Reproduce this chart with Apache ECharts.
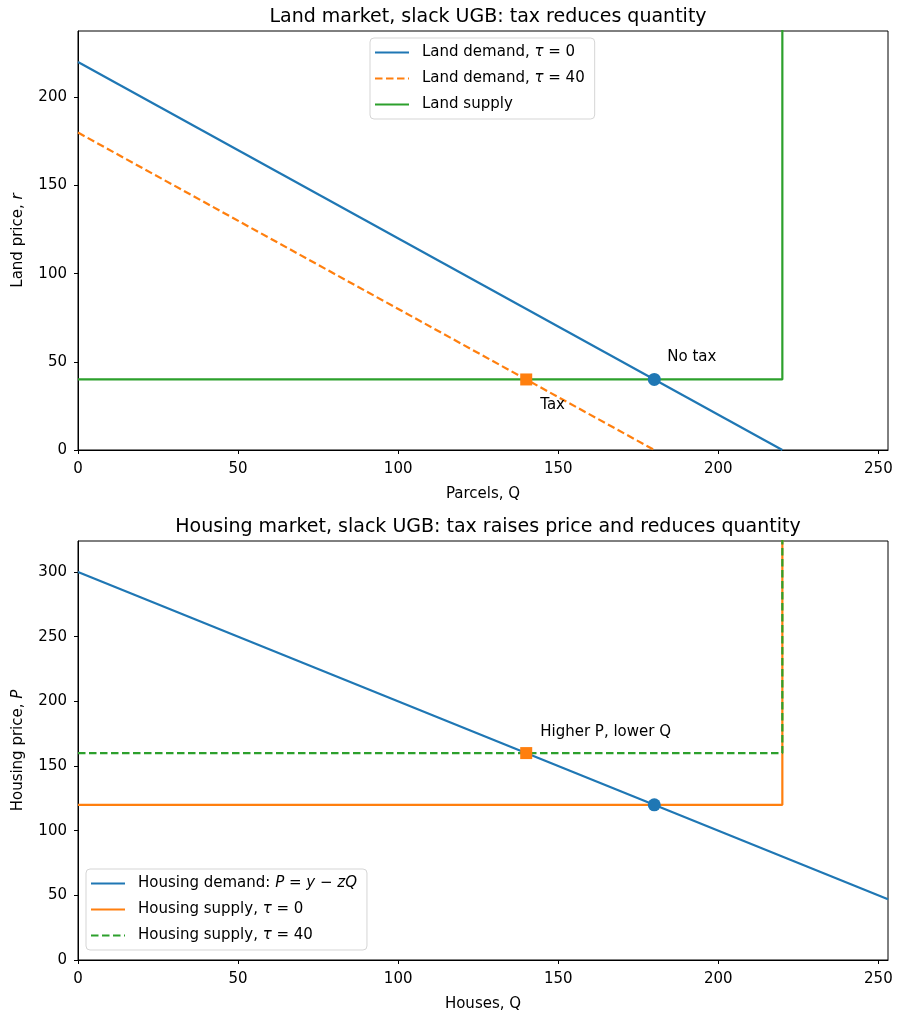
<!DOCTYPE html>
<html>
<head>
<meta charset="utf-8" />
<title>Land and housing market, slack UGB</title>
<script src="https://cdn.jsdelivr.net/npm/echarts@6/dist/echarts.min.js"></script>
<style>
  html, body { margin: 0; padding: 0; background: #fff; }
  #chart { width: 898px; height: 1016px; }
</style>
</head>
<body>
<div id="chart"></div>
<script>
// ---- data ----
const xMax = 253;
const landYMax = 237.6;
const houseYMax = 324;

// land market
const landDemand0 = [[0, 220], [220, 0]];
const landDemand40 = [[0, 180], [180, 0]];
const landSupply = [[0, 40], [220, 40], [220, 400]];
const landNoTax = [[180, 40]];
const landTax = [[140, 40]];

// housing market
const houseDemand = [[0, 300], [253, 47]];
const houseSupply0 = [[0, 120], [220, 120], [220, 500]];
const houseSupply40 = [[0, 160], [220, 160], [220, 500]];
const houseNoTax = [[180, 120]];
const houseTax = [[140, 160]];

const xTicks = [0, 50, 100, 150, 200, 250];

// ---- chart ----
const chart = echarts.init(document.getElementById('chart'));
const FONT = 'DejaVu Sans';
const FS = 15;
const BLUE = '#1f77b4', ORANGE = '#ff7f0e', GREEN = '#2ca02c';

function xAx(idx, name) {
  return {
    gridIndex: idx, type: 'value', min: 0, max: xMax, interval: 50,
    name: name, nameLocation: 'middle', nameGap: 37,
    nameTextStyle: { fontFamily: FONT, fontSize: FS, color: '#000' },
    axisLine: { show: true, onZero: false, lineStyle: { color: '#000', width: 1 } },
    axisTick: { show: true, inside: false, length: 4, lineStyle: { color: '#000' } },
    axisLabel: { fontFamily: FONT, fontSize: FS, color: '#000', margin: 12, showMaxLabel: false,
      formatter: v => xTicks.indexOf(v) >= 0 ? String(v) : '' },
    splitLine: { show: false }
  };
}
function yAx(idx, max, name) {
  return {
    gridIndex: idx, type: 'value', min: 0, max: max, interval: 50,
    name: name, nameLocation: 'middle', nameGap: 52, nameRotate: 90,
    nameTextStyle: { fontFamily: FONT, fontSize: FS, color: '#000',
      rich: {
        n: { fontFamily: FONT, fontSize: FS, color: '#000' },
        it: { fontFamily: FONT, fontSize: FS, fontStyle: 'italic', color: '#000' }
      } },
    axisLine: { show: true, lineStyle: { color: '#000', width: 1 } },
    axisTick: { show: true, length: 4, lineStyle: { color: '#000' } },
    axisLabel: { fontFamily: FONT, fontSize: FS, color: '#000', margin: 11, showMaxLabel: false },
    splitLine: { show: false }
  };
}
function lineS(name, x, y, data, color, dashed, z) {
  return {
    name: name, type: 'line', xAxisIndex: x, yAxisIndex: y, data: data,
    symbol: 'none', z: z || 2, animation: false,
    lineStyle: { color: color, width: 2.2, type: dashed ? [7.5, 3.5] : 'solid' },
    itemStyle: { color: color }
  };
}
function pointS(x, y, data, color, shape, label, off) {
  return {
    type: 'scatter', xAxisIndex: x, yAxisIndex: y, data: data,
    symbol: shape, symbolSize: shape === 'circle' ? 13 : 12, z: 5, animation: false,
    itemStyle: { color: color, opacity: 1 },
    label: label ? {
      show: true, formatter: label, position: 'inside', offset: off, align: 'left',
      fontFamily: FONT, fontSize: FS, color: '#000'
    } : { show: false },
    silent: true
  };
}

const legendRich = {
  sp: { width: 8 },
  it: { fontFamily: FONT, fontSize: FS, fontStyle: 'italic', color: '#000' },
  n: { fontFamily: FONT, fontSize: FS, color: '#000' }
};
const legendText = {
  'Land demand, τ=0': '{sp|}{n|Land demand, }{it|τ}{n| = 0}',
  'Land demand, τ=40': '{sp|}{n|Land demand, }{it|τ}{n| = 40}',
  'Land supply': '{sp|}{n|Land supply}',
  'Housing demand': '{sp|}{n|Housing demand: }{it|P}{n| = }{it|y}{n| − }{it|zQ}',
  'Housing supply, τ=0': '{sp|}{n|Housing supply, }{it|τ}{n| = 0}',
  'Housing supply, τ=40': '{sp|}{n|Housing supply, }{it|τ}{n| = 40}'
};
function legend(names, left, top) {
  return {
    data: names, orient: 'vertical', left: left, top: top,
    itemWidth: 34, itemHeight: 14, itemGap: 11, padding: [7, 10, 7, 4],
    backgroundColor: '#fff', borderColor: '#d5d5d5', borderWidth: 1, borderRadius: 4,
    itemStyle: { opacity: 0 },
    formatter: n => legendText[n],
    textStyle: { fontFamily: FONT, fontSize: FS, color: '#000', rich: legendRich }
  };
}

chart.setOption({
  animation: false,
  title: [
    { text: 'Land market, slack UGB: tax reduces quantity', left: 483, top: 3, textAlign: 'center',
      textStyle: { fontFamily: FONT, fontSize: 19, fontWeight: 'normal', color: '#000' } },
    { text: 'Housing market, slack UGB: tax raises price and reduces quantity', left: 483, top: 513, textAlign: 'center',
      textStyle: { fontFamily: FONT, fontSize: 19, fontWeight: 'normal', color: '#000' } }
  ],
  grid: [
    { left: 78, right: 10, top: 31, height: 419, show: true, borderColor: '#000', borderWidth: 1, backgroundColor: 'transparent' },
    { left: 78, right: 10, top: 541, height: 419, show: true, borderColor: '#000', borderWidth: 1, backgroundColor: 'transparent' }
  ],
  xAxis: [xAx(0, 'Parcels, Q'), xAx(1, 'Houses, Q')],
  yAxis: [
    yAx(0, landYMax, '{n|Land price, }{it|r}'),
    yAx(1, houseYMax, '{n|Housing price, }{it|P}')
  ],
  legend: [
    legend(['Land demand, τ=0', 'Land demand, τ=40', 'Land supply'], 370, 38),
    legend(['Housing demand', 'Housing supply, τ=0', 'Housing supply, τ=40'], 86, 869)
  ],
  series: [
    lineS('Land demand, τ=0', 0, 0, landDemand0, BLUE, false),
    lineS('Land demand, τ=40', 0, 0, landDemand40, ORANGE, true),
    lineS('Land supply', 0, 0, landSupply, GREEN, false),
    pointS(0, 0, landNoTax, BLUE, 'circle', 'No tax', [13, -22]),
    pointS(0, 0, landTax, ORANGE, 'rect', 'Tax', [14, 26]),
    lineS('Housing demand', 1, 1, houseDemand, BLUE, false, 3),
    lineS('Housing supply, τ=0', 1, 1, houseSupply0, ORANGE, false),
    lineS('Housing supply, τ=40', 1, 1, houseSupply40, GREEN, true),
    pointS(1, 1, houseNoTax, BLUE, 'circle', null, null),
    pointS(1, 1, houseTax, ORANGE, 'rect', 'Higher P, lower Q', [14, -21])
  ]
});
</script>
</body>
</html>
